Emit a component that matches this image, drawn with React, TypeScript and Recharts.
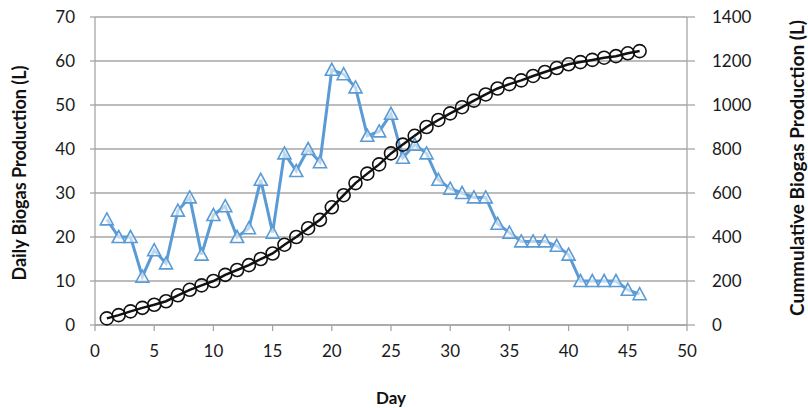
import React from "react";
import {
  ComposedChart,
  Line,
  XAxis,
  YAxis,
  CartesianGrid,
  Label,
} from "recharts";

const days = [
  1, 2, 3, 4, 5, 6, 7, 8, 9, 10, 11, 12, 13, 14, 15, 16, 17, 18, 19, 20, 21, 22, 23,
  24, 25, 26, 27, 28, 29, 30, 31, 32, 33, 34, 35, 36, 37, 38, 39, 40, 41, 42, 43, 44,
  45, 46,
];

const dailyProduction = [
  24, 20, 20, 11, 17, 14, 26, 29, 16, 25, 27, 20, 22, 33, 21, 39, 35, 40, 37, 58, 57,
  54, 43, 44, 48, 38, 41, 39, 33, 31, 30, 29, 29, 23, 21, 19, 19, 19, 18, 16, 10, 10,
  10, 10, 8, 7,
];

const cumulativeProduction = [
  30, 45, 62, 78, 92, 108, 135, 160, 180, 200, 228, 250, 272, 300, 325, 365, 400, 440,
  478, 535, 590, 645, 688, 730, 780, 820, 860, 900, 932, 962, 990, 1020, 1048, 1075,
  1095, 1112, 1132, 1150, 1168, 1185, 1195, 1205, 1215, 1222, 1235, 1245,
];

const xTicks = [0, 5, 10, 15, 20, 25, 30, 35, 40, 45, 50];
const leftTicks = [0, 10, 20, 30, 40, 50, 60, 70];
const rightTicks = [0, 200, 400, 600, 800, 1000, 1200, 1400];

const data = days.map((day, i) => ({
  day,
  daily: dailyProduction[i],
  cumulative: cumulativeProduction[i],
}));

const FONT = "Lato, 'Open Sans', sans-serif";
const GRID = "#a6a6a6";
const BLUE = "#5b9bd5";

const tickStyle = { fill: "#1a1a1a", fontSize: 17, fontFamily: FONT };

const Triangle = (props: any) => {
  const { cx, cy } = props;
  if (cx == null || cy == null) return null;
  return (
    <path
      d={`M${cx},${cy - 6.5} L${cx + 6.5},${cy + 5.5} L${cx - 6.5},${cy + 5.5} Z`}
      fill="#fff"
      fillOpacity={0.6}
      stroke={BLUE}
      strokeWidth={1.6}
    />
  );
};

const Circle = (props: any) => {
  const { cx, cy } = props;
  if (cx == null || cy == null) return null;
  return <circle cx={cx} cy={cy} r={6.5} fill="none" stroke="#111" strokeWidth={1.6} />;
};

// rotated axis title at a fixed spot
const sideTitle = (text: string, x: number, y: number, size: number) => () => (
  <text
    x={x}
    y={y}
    transform={`rotate(-90 ${x} ${y})`}
    textAnchor="middle"
    dominantBaseline="central"
    fill="#111"
    fontSize={size}
    fontWeight={700}
    fontFamily={FONT}
  >
    {text}
  </text>
);

export default function App() {
  return (
    <div style={{ position: "absolute", left: 0, top: 0, width: 808, height: 408, background: "#fff" }}>
      <ComposedChart
        width={808}
        height={408}
        data={data}
        margin={{ top: 17, right: 0, bottom: 0, left: 0 }}
      >
        <CartesianGrid yAxisId="left" vertical={false} stroke={GRID} strokeWidth={1.3} />
        <XAxis
          dataKey="day"
          type="number"
          domain={[0, 50]}
          ticks={xTicks}
          interval={0}
          height={83}
          axisLine={{ stroke: GRID, strokeWidth: 1.3 }}
          tickLine={{ stroke: GRID, strokeWidth: 1.3 }}
          tickSize={6}
          tickMargin={14}
          tick={tickStyle}
        >
          <Label
            value="Day"
            position="insideBottom"
            offset={4}
            style={{ fill: "#111", fontSize: 17, fontWeight: 700, fontFamily: FONT }}
          />
        </XAxis>
        <YAxis
          yAxisId="left"
          domain={[0, 70]}
          ticks={leftTicks}
          interval={0}
          width={95}
          axisLine={{ stroke: GRID, strokeWidth: 1.3 }}
          tickLine={{ stroke: GRID, strokeWidth: 1.3 }}
          tickSize={5}
          tickMargin={15}
          tick={tickStyle}
        >
          <Label content={sideTitle("Daily Biogas Production (L)", 19, 173, 18)} />
        </YAxis>
        <YAxis
          yAxisId="right"
          orientation="right"
          domain={[0, 1400]}
          ticks={rightTicks}
          interval={0}
          width={121}
          axisLine={{ stroke: GRID, strokeWidth: 1.3 }}
          tickLine={{ stroke: GRID, strokeWidth: 1.3 }}
          tickSize={8}
          tickMargin={17}
          tick={{ ...tickStyle, textAnchor: "start" }}
        >
          <Label content={sideTitle("Cummulative Biogas Production (L)", 796, 168, 19)} />
        </YAxis>
        <Line
          yAxisId="left"
          dataKey="daily"
          stroke={BLUE}
          strokeWidth={3}
          dot={<Triangle />}
          activeDot={false}
          isAnimationActive={false}
        />
        <Line
          yAxisId="right"
          dataKey="cumulative"
          stroke="#111"
          strokeWidth={2.5}
          dot={<Circle />}
          activeDot={false}
          isAnimationActive={false}
        />
      </ComposedChart>
    </div>
  );
}
